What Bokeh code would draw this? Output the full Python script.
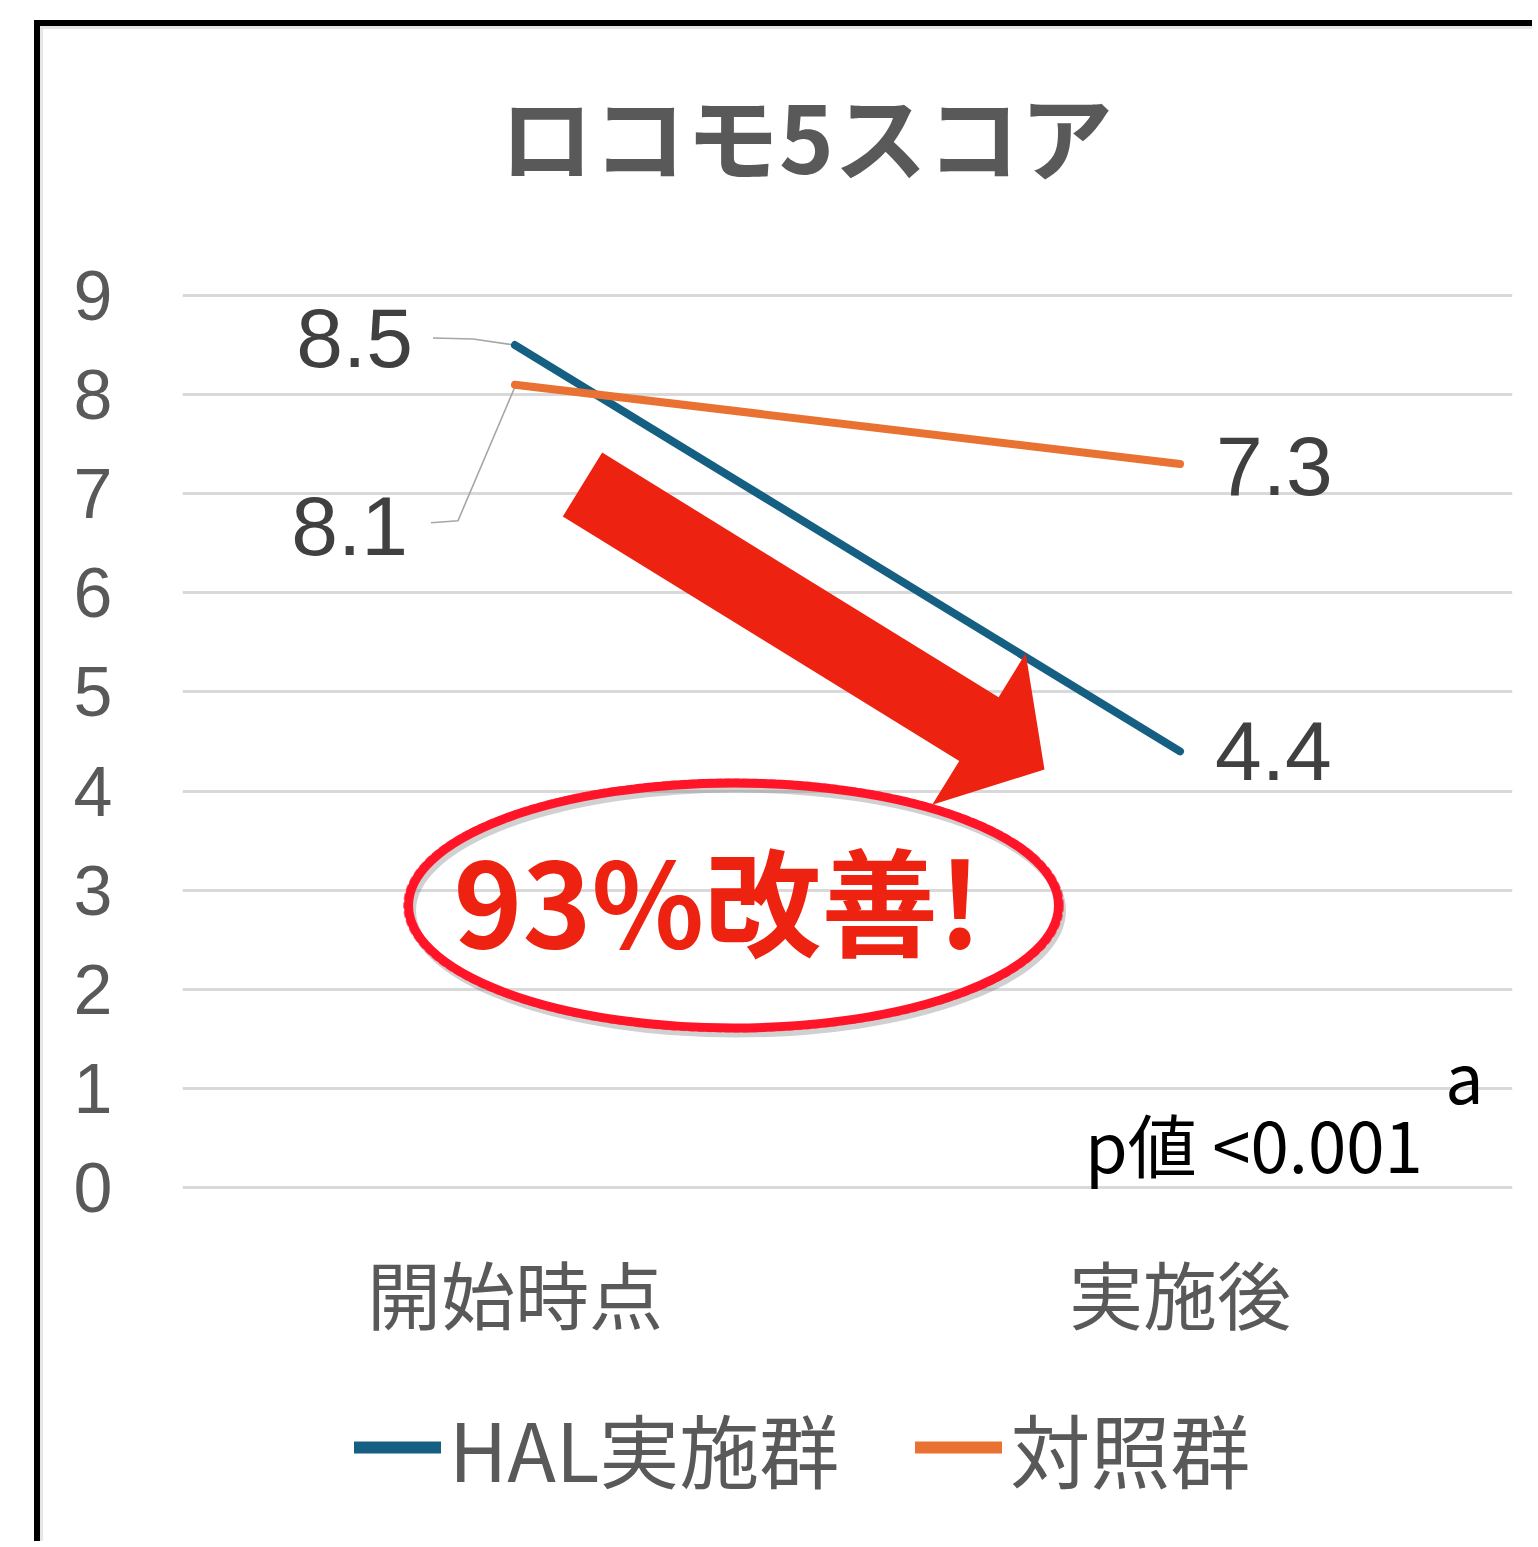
from bokeh.plotting import figure
from bokeh.models import (FactorRange, Range1d, Label, Legend, LegendItem,
                          FixedTicker, ColumnDataSource)
from bokeh.core.properties import value
from bokeh.embed import file_html
from bokeh.resources import INLINE

# ---------------- data ----------------
title_text = "ロコモ5スコア"
categories = ["開始時点", "実施後"]
series_names = ["HAL実施群", "対照群"]
hal_values = [8.5, 4.4]
control_values = [8.1, 7.3]
y_ticks = [0, 1, 2, 3, 4, 5, 6, 7, 8, 9]
callout_text = "93%改善!"
p_value_text = "p値 <0.001"
footnote_mark = "a"

# ---------------- styles / layout ----------------
BLUE = "#156082"
ORANGE = "#E97132"
RED = "#ee2211"
GREY_TXT = "#595959"
DARK_TXT = "#404040"
CJK = "Noto Sans CJK JP"

OFF_X, OFF_Y = 40, 26            # canvas origin on page (css margin + border)
W, H = 1538 - OFF_X, 1547 - OFF_Y
BL, BR = 182 - OFF_X, 26         # left: tick labels; right: blank
ZERO_Y = 1187 - OFF_Y            # canvas row of the y = 0 gridline
PX_Y = 99.11                     # px per y unit (0..9 spans 892 px)
FW = W - BL - BR
PX_X = FW / len(categories)
Y_TOP = ZERO_Y / PX_Y
Y_BOTTOM = -(H - ZERO_Y) / PX_Y

p = figure(x_range=FactorRange(factors=categories, range_padding=0),
           y_range=Range1d(Y_BOTTOM, Y_TOP),
           width=W, height=H, output_backend="svg", toolbar_location=None,
           x_axis_location=None, title_location=None,
           min_border_left=BL, min_border_right=BR,
           min_border_top=0, min_border_bottom=0)
p.styles = {"margin-left": "34px", "margin-top": "20px",
            "border-left": "6px solid black", "border-top": "6px solid black",
            "box-shadow": "inset 3px 3px 0 #e6e6e6"}
p.outline_line_color = None
p.background_fill_alpha = 0
p.border_fill_alpha = 0

# grid
p.xgrid.grid_line_color = None
p.ygrid.ticker = FixedTicker(ticks=y_ticks)
p.ygrid.grid_line_color = "#d9d9d9"
p.ygrid.grid_line_width = 3

# y axis
p.yaxis.ticker = FixedTicker(ticks=y_ticks)
p.yaxis.axis_line_color = None
p.yaxis.major_tick_line_color = None
p.yaxis.minor_tick_line_color = None
p.yaxis.major_label_text_font = "Liberation Sans"
p.yaxis.major_label_text_font_size = "70px"
p.yaxis.major_label_text_color = GREY_TXT
p.yaxis.major_label_standoff = 64

# category labels under the plot (placed through the categorical scale)
p.text(x=categories, y=[0] * len(categories), text=categories, y_offset=104,
       text_align="center", text_baseline="middle", text_font=value(CJK),
       text_font_size=value("74px"), text_color=GREY_TXT)


def px(dx, dy):
    """screen pixel offsets -> data offsets (dy positive = down)"""
    return dx / PX_X, -dy / PX_Y


def xnum(i):
    return i + 0.5


# title
p.add_layout(Label(x=(806 - 182) / PX_X, y=(1187 - 133) / PX_Y, text=title_text,
                   text_align="center", text_baseline="middle", text_font=CJK,
                   text_font_style="bold", text_font_size="93px", text_color=GREY_TXT))

# leader lines (grey) from first-category labels to points
leaders = [
    (hal_values[0], [(-82, -7), (-42, -6), (0, 0)]),
    (control_values[0], [(-84, 138), (-57, 136), (0, 2)]),
]
for val, offs in leaders:
    xs, ys = [], []
    for dx, dy in offs:
        ox, oy = px(dx, dy)
        xs.append(xnum(0) + ox)
        ys.append(val + oy)
    p.line(xs, ys, line_color="#a6a6a6", line_width=1.6)

# series lines
r_hal = p.line(x=categories, y=hal_values, line_color=BLUE, line_width=8, line_cap="round")
r_ctl = p.line(x=categories, y=control_values, line_color=ORANGE, line_width=8, line_cap="round")

# legend proxies (thicker swatches, nothing drawn in the plot)
nan = float("nan")
leg_hal = p.line(x=categories, y=[nan, nan], line_color=BLUE, line_width=12, line_cap="round")
leg_ctl = p.line(x=categories, y=[nan, nan], line_color=ORANGE, line_width=12, line_cap="round")

# data labels
left_src = ColumnDataSource(dict(
    x=[categories[0], categories[0]],
    y=[hal_values[0], control_values[0]],
    t=[f"{hal_values[0]}", f"{control_values[0]}"],
    xo=[-102, -107], yo=[-7, 141]))
p.text(x="x", y="y", text="t", x_offset="xo", y_offset="yo", source=left_src,
       text_align="right", text_baseline="middle", text_font=value("Liberation Sans"),
       text_font_size=value("84px"), text_color=DARK_TXT)
right_src = ColumnDataSource(dict(
    x=[categories[1], categories[1]],
    y=[hal_values[1], control_values[1]],
    t=[f"{hal_values[1]}", f"{control_values[1]}"],
    xo=[35, 36], yo=[0, 2]))
p.text(x="x", y="y", text="t", x_offset="xo", y_offset="yo", source=right_src,
       text_align="left", text_baseline="middle", text_font=value("Liberation Sans"),
       text_font_size=value("84px"), text_color=DARK_TXT)

# big red arrow (start / tip in data units, sizes in px)
a_start = (0.6015, 7.093)
a_tip = (1.2962, 4.2175)
shaft_w, head_w, head_len = 75, 178, 77
sx0, sy0 = a_start[0] * PX_X, -a_start[1] * PX_Y
sx1, sy1 = a_tip[0] * PX_X, -a_tip[1] * PX_Y
L = ((sx1 - sx0) ** 2 + (sy1 - sy0) ** 2) ** 0.5
ux, uy = (sx1 - sx0) / L, (sy1 - sy0) / L
nx, ny = -uy, ux
bx, by = sx1 - ux * head_len, sy1 - uy * head_len
pts = [
    (sx0 + nx * shaft_w / 2, sy0 + ny * shaft_w / 2),
    (bx + nx * shaft_w / 2, by + ny * shaft_w / 2),
    (bx + nx * head_w / 2, by + ny * head_w / 2),
    (sx1, sy1),
    (bx - nx * head_w / 2, by - ny * head_w / 2),
    (bx - nx * shaft_w / 2, by - ny * shaft_w / 2),
    (sx0 - nx * shaft_w / 2, sy0 - ny * shaft_w / 2),
]
p.patch([q[0] / PX_X for q in pts], [-q[1] / PX_Y for q in pts],
        fill_color=RED, line_color=None)

# red ellipse callout
e_x, e_y = 0.8286, 2.845
e_w, e_h = 650 / PX_X, 245 / PX_Y
sdx, sdy = px(3, 5)
p.ellipse(x=[e_x + sdx], y=[e_y + sdy], width=e_w, height=e_h, fill_color=None,
          line_color="#777777", line_alpha=0.35, line_width=9)
p.ellipse(x=[e_x], y=[e_y], width=e_w, height=e_h, fill_color=None,
          line_color="#ff1428", line_width=9)
p.ellipse(x=[e_x], y=[e_y], width=e_w + 8 / PX_X, height=e_h + 6 / PX_Y, fill_color=None,
          line_color="#ff1428", line_width=3, line_alpha=0.6, line_dash="6 3")

p.add_layout(Label(x=0.8045, y=2.936, text=callout_text, text_align="center",
                   text_baseline="middle", text_font=CJK,
                   text_font_style="bold", text_font_size="117px", text_color=RED))

# p-value note
p.add_layout(Label(x=1.357, y=0.454, text=p_value_text, text_align="left",
                   text_baseline="middle", text_font=CJK,
                   text_font_size="69px", text_color="black"))
p.add_layout(Label(x=1.899, y=1.140, text=footnote_mark, text_align="left",
                   text_baseline="middle", text_font=CJK,
                   text_font_size="68px", text_color="black"))

# legend (inside the frame, under the category labels)
legend = Legend(items=[LegendItem(label=series_names[0], renderers=[leg_hal]),
                       LegendItem(label=series_names[1], renderers=[leg_ctl])],
                orientation="horizontal", location=(172, 42),
                glyph_width=87, glyph_height=20, label_standoff=8, spacing=76,
                padding=0, margin=0, border_line_color=None, background_fill_alpha=0,
                label_text_font=CJK, label_text_font_size="80px",
                label_text_color=GREY_TXT)
p.add_layout(legend)

open("out.html", "w").write(file_html(p, INLINE))
